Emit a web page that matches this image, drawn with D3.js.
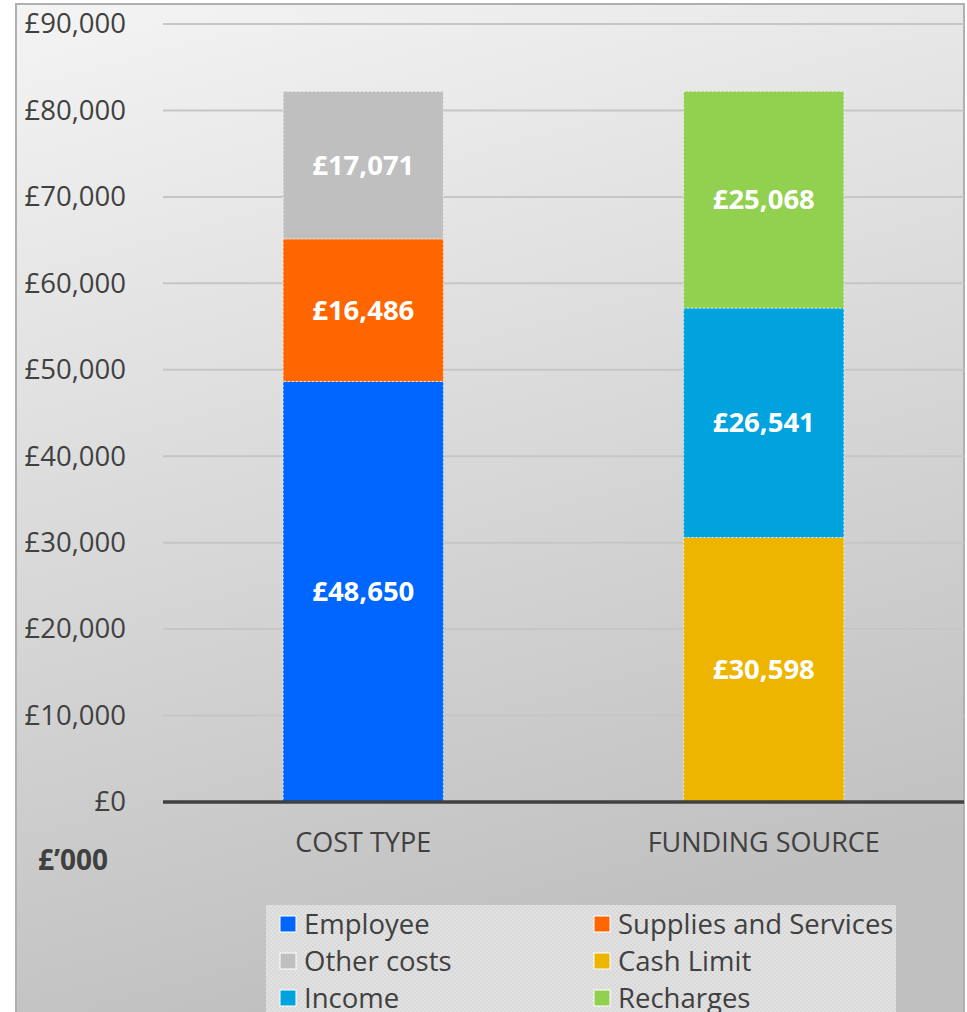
<!DOCTYPE html>
<html><head><meta charset="utf-8">
<script src="https://cdn.jsdelivr.net/npm/d3@7"></script>
<style>html,body{margin:0;padding:0;background:#fff;}svg{display:block;}</style>
</head><body>
<script>
const categories = ["COST TYPE", "FUNDING SOURCE"];
const series = [
  {name: "Employee", cat: "COST TYPE", value: 48650, color: "#0066ff"},
  {name: "Supplies and Services", cat: "COST TYPE", value: 16486, color: "#ff6600"},
  {name: "Other costs", cat: "COST TYPE", value: 17071, color: "#bfbfbf"},
  {name: "Cash Limit", cat: "FUNDING SOURCE", value: 30598, color: "#edb500"},
  {name: "Income", cat: "FUNDING SOURCE", value: 26541, color: "#00a3dd"},
  {name: "Recharges", cat: "FUNDING SOURCE", value: 25068, color: "#92d050"}
];
const legendOrder = ["Employee", "Supplies and Services", "Other costs", "Cash Limit", "Income", "Recharges"];
const yTicks = [0, 10000, 20000, 30000, 40000, 50000, 60000, 70000, 80000, 90000];
const unitLabel = "£’000";

const W = 967, H = 1012;
const svg = d3.select("body").append("svg").attr("width", W).attr("height", H);
const defs = svg.append("defs");
const g = defs.append("linearGradient").attr("id","bg").attr("x1","0").attr("y1","0").attr("x2","0.25").attr("y2","1");
g.append("stop").attr("offset","0").attr("stop-color","#f4f4f4");
g.append("stop").attr("offset","1").attr("stop-color","#c0c0c0");
const pat = defs.append("pattern").attr("id","lg").attr("width",4).attr("height",4).attr("patternUnits","userSpaceOnUse");
pat.append("rect").attr("width",4).attr("height",4).attr("fill","#d8d8d8");
pat.append("rect").attr("width",2).attr("height",2).attr("fill","#e2e2e2");
pat.append("rect").attr("x",2).attr("y",2).attr("width",2).attr("height",2).attr("fill","#e2e2e2");

svg.append("rect").attr("x",16).attr("y",4).attr("width",948).attr("height",1020)
  .attr("fill","url(#bg)").attr("stroke","#b0b0b0").attr("stroke-width",2);

const FONT = "'Open Sans', sans-serif";
const x0 = 163, x1 = 964, yTop = 24, yBot = 802;
const x = d3.scaleBand().domain(categories).range([x0, x1]).paddingInner(0.6).paddingOuter(0.3);
const y = d3.scaleLinear().domain([0, 90000]).range([yBot, yTop]);

// gridlines
svg.append("g").selectAll("line").data(yTicks.filter(d => d > 0)).join("line")
  .attr("x1", x0).attr("x2", x1).attr("y1", d => y(d)).attr("y2", d => y(d))
  .attr("stroke", "#c6c6c6").attr("stroke-width", 2);

// y axis labels
const yAxis = d3.axisLeft(y).tickValues(yTicks).tickSize(0).tickPadding(0)
  .tickFormat(d => "£" + d3.format(",")(d));
const ya = svg.append("g").attr("transform", "translate(126,0)").call(yAxis);
ya.select(".domain").remove();
ya.selectAll("text").attr("font-family", FONT).attr("font-size", 27.5).attr("fill", "#404040");

// stacked bars
const stacks = {};
categories.forEach(c => stacks[c] = 0);
const segs = series.map(s => { const y0 = stacks[s.cat]; stacks[s.cat] += s.value; return {...s, y0, y1: stacks[s.cat]}; });

svg.append("g").selectAll("rect").data(segs).join("rect")
  .attr("x", d => x(d.cat)).attr("width", x.bandwidth())
  .attr("y", d => y(d.y1)).attr("height", d => y(d.y0) - y(d.y1))
  .attr("fill", d => d.color).attr("stroke", "#ffffff").attr("stroke-width", 1)
  .attr("stroke-dasharray", "2,2").attr("stroke-opacity", 0.7);

svg.append("g").selectAll("text").data(segs).join("text")
  .attr("x", d => x(d.cat) + x.bandwidth() / 2)
  .attr("y", d => y((d.y0 + d.y1) / 2))
  .attr("dy", "0.35em").attr("text-anchor", "middle")
  .attr("font-family", FONT).attr("font-weight", "bold").attr("font-size", 27.5)
  .attr("fill", "#ffffff")
  .text(d => "£" + d3.format(",")(d.value));

// x axis
const xAxis = d3.axisBottom(x).tickSize(0).tickPadding(0);
const xa = svg.append("g").attr("transform", `translate(0,${yBot})`).call(xAxis);
xa.select(".domain").remove();
xa.selectAll("text").attr("font-family", FONT).attr("font-size", 27).attr("fill", "#404040")
  .attr("y", 41).attr("dy", "0.35em");
svg.append("line").attr("x1", x0).attr("x2", x1).attr("y1", yBot).attr("y2", yBot)
  .attr("stroke", "#404040").attr("stroke-width", 3.5);

svg.append("text").attr("x", 38).attr("y", 870).attr("font-family", FONT)
  .attr("font-weight", "bold").attr("font-size", 28).attr("fill", "#404040").text(unitLabel);

// legend
svg.append("rect").attr("x", 266).attr("y", 905).attr("width", 630).attr("height", 120).attr("fill", "url(#lg)");
const colorOf = Object.fromEntries(series.map(s => [s.name, s.color]));
const li = svg.append("g").selectAll("g").data(legendOrder).join("g")
  .attr("transform", (d, i) => `translate(${i % 2 === 0 ? 280 : 594},${924 + Math.floor(i / 2) * 37})`);
li.append("rect").attr("x", 0).attr("y", -8).attr("width", 16).attr("height", 16)
  .attr("fill", d => colorOf[d]).attr("stroke", "#fff").attr("stroke-width", 1);
li.append("text").attr("x", 24).attr("dy", "0.35em").attr("font-family", FONT)
  .attr("font-size", 27.5).attr("fill", "#404040").text(d => d);
</script>
</body></html>
